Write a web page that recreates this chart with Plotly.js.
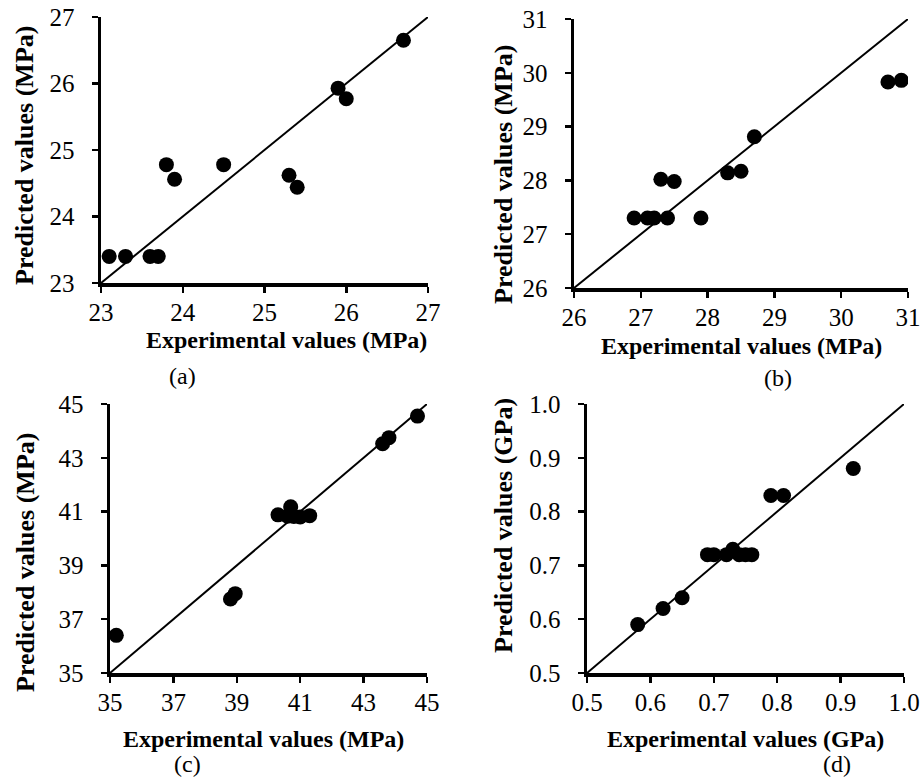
<!DOCTYPE html>
<html>
<head>
<meta charset="utf-8">
<script src="https://cdn.plot.ly/plotly-3.0.1.min.js"></script>
<style>
html,body{margin:0;padding:0;background:#fff;}
#chart{width:922px;height:780px;}
</style>
</head>
<body>
<div id="chart"></div>
<script>
// ---- data ----
const expA  = [23.1, 23.3, 23.6, 23.7, 23.8, 23.9, 24.5, 25.3, 25.4, 25.9, 26.0, 26.7];
const predA = [23.4, 23.4, 23.4, 23.4, 24.78, 24.56, 24.78, 24.62, 24.44, 25.93, 25.77, 26.65];

const expB  = [26.9, 27.1, 27.2, 27.4, 27.3, 27.5, 27.9, 28.3, 28.5, 28.7, 30.7, 30.9];
const predB = [27.3, 27.3, 27.3, 27.3, 28.02, 27.98, 27.3, 28.14, 28.17, 28.81, 29.83, 29.86];

const expC  = [35.2, 38.8, 38.95, 40.3, 40.6, 40.7, 40.8, 41.0, 41.3, 43.6, 43.8, 44.7];
const predC = [36.4, 37.75, 37.95, 40.88, 40.83, 41.18, 40.82, 40.8, 40.85, 43.52, 43.75, 44.55];

const expD  = [0.58, 0.62, 0.65, 0.69, 0.70, 0.72, 0.73, 0.74, 0.75, 0.76, 0.79, 0.81, 0.92];
const predD = [0.59, 0.62, 0.64, 0.72, 0.72, 0.72, 0.73, 0.72, 0.72, 0.72, 0.83, 0.83, 0.88];

const rangeA = [23, 27];
const rangeB = [26, 31];
const rangeC = [35, 45];
const rangeD = [0.5, 1.0];

const ticksA = [23, 24, 25, 26, 27];
const ticksB = [26, 27, 28, 29, 30, 31];
const ticksC = [35, 37, 39, 41, 43, 45];
const ticksD = [0.5, 0.6, 0.7, 0.8, 0.9, 1.0];
const tickTextD = ['0.5', '0.6', '0.7', '0.8', '0.9', '1.0'];

const xTitleMPa = 'Experimental values (MPa)';
const yTitleMPa = 'Predicted values (MPa)';
const xTitleGPa = 'Experimental values (GPa)';
const yTitleGPa = 'Predicted values (GPa)';
const captions = ['(a)', '(b)', '(c)', '(d)'];

// ---- layout helpers ----
const W = 922, H = 780;
const FONT = 'Liberation Serif, Times New Roman, serif';
const px = v => v / W;
const py = v => 1 - v / H;

function axis(range, tickvals, ticktext, dom, anchor, standoff) {
  const a = {
    range: range, domain: dom, anchor: anchor,
    showgrid: false, zeroline: false,
    showline: true, linecolor: '#000', linewidth: 3.5,
    ticks: 'outside', ticklen: 6, tickwidth: 2.5, tickcolor: '#000',
    tickvals: tickvals,
    tickfont: {family: FONT, size: 25, color: '#000'},
    ticklabelstandoff: standoff,
    mirror: false, fixedrange: true
  };
  if (ticktext) a.ticktext = ticktext;
  return a;
}

const panels = [
  {ex: expA, pr: predA, r: rangeA, t: ticksA, tt: null, xd: [px(101), px(428)], yd: [py(283), py(17)]},
  {ex: expB, pr: predB, r: rangeB, t: ticksB, tt: null, xd: [px(574), px(908)], yd: [py(288), py(19)]},
  {ex: expC, pr: predC, r: rangeC, t: ticksC, tt: null, xd: [px(110), px(427)], yd: [py(673), py(404)]},
  {ex: expD, pr: predD, r: rangeD, t: ticksD, tt: tickTextD, xd: [px(587), px(904)], yd: [py(673), py(404)]}
];

const traces = [];
const layout = {
  width: W, height: H,
  margin: {l: 0, r: 0, t: 0, b: 0},
  paper_bgcolor: '#fff', plot_bgcolor: '#fff',
  showlegend: false,
  font: {family: FONT, color: '#000'},
  annotations: []
};

panels.forEach((p, i) => {
  const n = i === 0 ? '' : String(i + 1);
  const xa = 'x' + n, ya = 'y' + n;
  traces.push({
    x: p.r, y: p.r, xaxis: xa, yaxis: ya,
    mode: 'lines', line: {color: '#000', width: 2}, hoverinfo: 'skip'
  });
  traces.push({
    x: p.ex, y: p.pr, xaxis: xa, yaxis: ya,
    mode: 'markers', marker: {color: '#000', size: 15, line: {width: 0}}
  });
  layout['xaxis' + n] = axis(p.r, p.t, p.tt, p.xd, ya, -2);
  layout['yaxis' + n] = axis(p.r, p.t, p.tt, p.yd, xa, 12);
});

function ann(text, x, y, size, bold, angle) {
  layout.annotations.push({
    text: bold ? '<b>' + text + '</b>' : text,
    xref: 'paper', yref: 'paper', x: px(x), y: py(y),
    xanchor: 'center', yanchor: 'middle', showarrow: false,
    textangle: angle || 0,
    font: {family: FONT, size: size, color: '#000'}
  });
}

// axis titles
ann(xTitleMPa, 286, 340, 24, true);
ann(yTitleMPa, 25, 156, 26, true, -90);
ann(xTitleMPa, 741, 346, 24, true);
ann(yTitleMPa, 503, 174, 26, true, -90);
ann(xTitleMPa, 263, 739, 24, true);
ann(yTitleMPa, 25, 563, 26, true, -90);
ann(xTitleGPa, 745, 739, 24, true);
ann(yTitleGPa, 503, 525, 26, true, -90);
// captions
ann(captions[0], 182, 376, 24, false);
ann(captions[1], 778, 378, 24, false);
ann(captions[2], 187, 764, 24, false);
ann(captions[3], 837, 764, 24, false);

Plotly.newPlot('chart', traces, layout, {staticPlot: true, displayModeBar: false});
</script>
</body>
</html>
